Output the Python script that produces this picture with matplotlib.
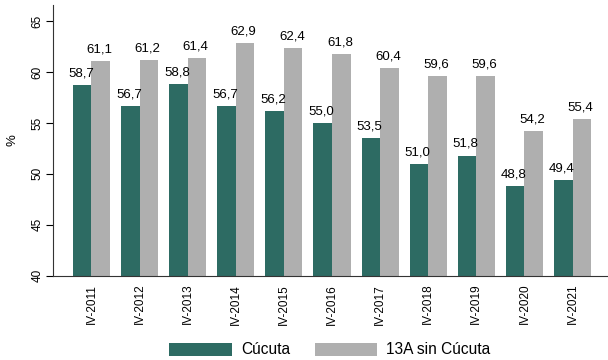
import numpy as np
import matplotlib.pyplot as plt

plt.rcParams['font.family'] = ['Liberation Sans', 'DejaVu Sans']

periodos = ['IV-2011', 'IV-2012', 'IV-2013', 'IV-2014', 'IV-2015', 'IV-2016',
            'IV-2017', 'IV-2018', 'IV-2019', 'IV-2020', 'IV-2021']
cucuta = [58.7, 56.7, 58.8, 56.7, 56.2, 55.0, 53.5, 51.0, 51.8, 48.8, 49.4]
trece_a = [61.1, 61.2, 61.4, 62.9, 62.4, 61.8, 60.4, 59.6, 59.6, 54.2, 55.4]

c_cucuta = '#2D6B63'
c_13a = '#AFAFAF'


def fmt(v):
    return ('%.1f' % v).replace('.', ',')


fig = plt.figure(figsize=(6.08, 3.6), dpi=100)
ax = fig.add_axes([0.0872, 0.2347, 0.913, 0.7514])

x = np.arange(len(periodos))
w = 0.385
b1 = ax.bar(x - w/2, cucuta, w, color=c_cucuta, label='Cúcuta')
b2 = ax.bar(x + w/2, trece_a, w, color=c_13a, label='13A sin Cúcuta')

for i in range(len(x)):
    ax.annotate(fmt(cucuta[i]), (x[i] - w/2, cucuta[i]), xytext=(-1, 4),
                textcoords='offset points', ha='center', va='bottom', fontsize=9.5)
    ax.annotate(fmt(trece_a[i]), (x[i] + w/2, trece_a[i]), xytext=(-1, 4),
                textcoords='offset points', ha='center', va='bottom', fontsize=9.5)

ax.set_ylim(40, 66.6)
ax.set_xlim(-0.8, 10.74)
ax.set_yticks([40, 45, 50, 55, 60, 65])
ax.set_xticks(x)
ax.set_xticklabels(periodos, rotation=90, fontsize=8.5)
ax.tick_params(axis='x', length=0, pad=6)
ax.tick_params(axis='y', length=5, labelsize=8.5, labelrotation=90, pad=2)
for lab in ax.get_yticklabels():
    lab.set_va('center')
ax.set_ylabel('%', fontsize=9.5, labelpad=9)

ax.spines['top'].set_visible(False)
ax.spines['right'].set_visible(False)
ax.spines['left'].set_color('#333333')
ax.spines['bottom'].set_color('#333333')

fig.legend(handles=[b1, b2], loc='center', bbox_to_anchor=(330/608, 1 - 350/360),
           ncol=2, frameon=False, fontsize=11.2, handlelength=4.0, handleheight=0.9,
           handletextpad=0.6, columnspacing=1.6)

fig.savefig('out.png', dpi=100)
